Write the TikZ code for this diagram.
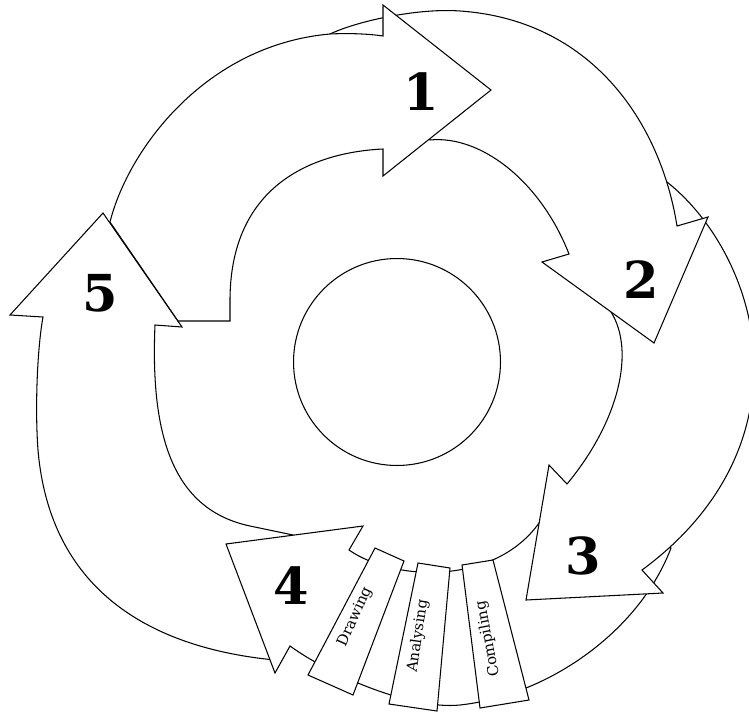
\documentclass[tikz,border=0pt]{standalone}
\usepackage{fontspec}
\setmainfont{DejaVu Serif}
\usetikzlibrary{calc}

\tikzset{
  arrowbody/.style={draw, fill=white, line width=0.6pt, line join=miter},
  stagebox/.style={draw, fill=white, line width=0.6pt},
  stagetext/.style={font=\fontsize{8.4}{9}\selectfont, inner sep=0pt},
  digit/.style={font=\fontsize{29}{29}\selectfont\bfseries, inner sep=0pt}
}

\begin{document}
\begin{tikzpicture}[x=0.02cm, y=-0.02cm]
  % 画布范围
  \clip (0,0) rectangle (749,713);

  % 箭头5（左侧，向上）
  \path[arrowbody] (103,213) -- (182,327) -- (155,325)
    .. controls (150,440) and (175,510) .. (250,526) -- (293,535)
    -- (275,660)
    .. controls (150,648) and (50,590) .. (38,450)
    .. controls (35,410) and (37,350) .. (43,317)
    -- (10,315) -- cycle;

  % 箭头4（下方，向左）
  \path[arrowbody] (226,544) -- (363,526) -- (349,550)
    .. controls (395,582) and (495,585) .. (539,523)
    -- (600,530) -- (671,548)
    .. controls (640,630) and (550,695) .. (460,705)
    .. controls (410,710) and (330,675) .. (290,646)
    -- (275,673) -- cycle;

  % 箭头3（右下，向下）
  \path[arrowbody] (611,312)
    .. controls (635,350) and (620,420) .. (567,484)
    -- (549,465) -- (526,600) -- (663,593) -- (642,570)
    .. controls (710,520) and (755,450) .. (754,363)
    .. controls (753,290) and (715,220) .. (667,182)
    -- cycle;

  % 箭头2（右上，向下）
  \path[arrowbody] (430,140)
    .. controls (480,135) and (540,180) .. (569,254)
    -- (542,262) -- (654,343) -- (708,217) -- (677,226)
    .. controls (660,120) and (590,20) .. (460,11)
    .. controls (420,8) and (360,20) .. (330,34)
    -- (400,80) -- cycle;

  % 箭头1（上方，向右）
  \path[arrowbody] (110,222)
    .. controls (128,150) and (205,45) .. (330,34)
    .. controls (350,33) and (370,34) .. (383,36)
    -- (383,5) -- (491,90) -- (383,176) -- (383,149)
    .. controls (320,152) and (228,180) .. (230,305)
    -- (230,321) -- (178,321) -- cycle;

  % 中心圆
  \node[draw, circle, line width=0.6pt, minimum size=4.14cm, inner sep=0pt] (hub) at (397,362) {};

  % 编号
  \node[digit] (one) at (421,92) {1};
  \node[digit] (two) at (641,280) {2};
  \node[digit] (three) at (583,556) {3};
  \node[digit] (four) at (291,586) {4};
  \node[digit] (five) at (100,293) {5};

  % 三个阶段
  \draw[stagebox] (375,548) -- (404,561) -- (353,695) -- (308,675) -- cycle;
  \node[stagetext, rotate=65.7] (drawing) at (355,617) {Drawing};
  \draw[stagebox] (418,563) -- (450,568) -- (437,711) -- (389,704) -- cycle;
  \node[stagetext, rotate=81.6] (analysing) at (418,636) {Analysing};
  \draw[stagebox] (462,565) -- (493,560) -- (529,700) -- (480,708) -- cycle;
  \node[stagetext, rotate=100.8] (compiling) at (488,639) {Compiling};
\end{tikzpicture}
\end{document}
